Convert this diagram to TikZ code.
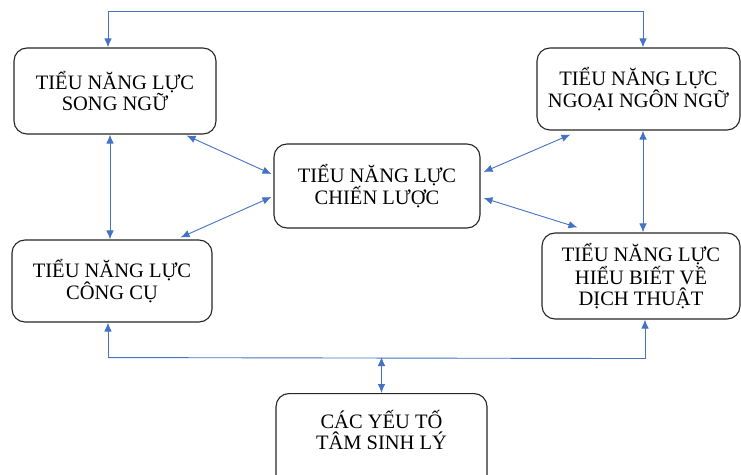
\documentclass[tikz,border=0pt]{standalone}
\usepackage{fontspec}
\setmainfont{Liberation Serif}
\usetikzlibrary{arrows.meta}
\definecolor{linkblue}{HTML}{4472C4}
\tikzset{
  box/.style={draw=black!85, line width=1.1pt, rounded corners=13pt, fill=white,
    align=center, font=\fontsize{20.5}{21}\selectfont, inner sep=0pt},
  link/.style={draw=linkblue, line width=0.9pt, {Latex[length=9pt,width=7.5pt]}-{Latex[length=9pt,width=7.5pt]}},
  onelink/.style={draw=linkblue, line width=0.9pt, -{Latex[length=9pt,width=7.5pt]}},
}
\begin{document}
\begin{tikzpicture}[x=1pt,y=1pt]
\useasboundingbox (0,0) rectangle (741,474);
\node[box, minimum width=202, minimum height=86] (A) at (115,383) {TIỂU NĂNG LỰC\\SONG NGỮ};
\node[box, minimum width=203, minimum height=82] (B) at (638.5,385) {TIỂU NĂNG LỰC\\NGOẠI NGÔN NGỮ};
\node[box, minimum width=206, minimum height=84] (C) at (377,288) {TIỂU NĂNG LỰC\\CHIẾN LƯỢC};
\node[box, minimum width=200, minimum height=82] (D) at (112,193) {TIỂU NĂNG LỰC\\CÔNG CỤ};
\node[box, minimum width=198, minimum height=86] (E) at (641,198) {TIỂU NĂNG LỰC\\HIỂU BIẾT VỀ\\DỊCH THUẬT};
\node[box, minimum width=211, minimum height=100, anchor=north] (F) at (381.5,81) {};
\node[align=center, font=\fontsize{20.5}{21}\selectfont, inner sep=0pt] (Ft) at ([yshift=-37]F.north) {CÁC YẾU TỐ\\TÂM SINH LÝ};

% top connector
\draw[link] ([xshift=-7pt]A.north) -- ++(0,36) -| ([xshift=4.5pt]B.north);
% bottom connector
\draw[onelink] ([xshift=-4pt,yshift=-35pt]D.south) -- ([xshift=-4pt]D.south);
\draw[onelink] ([xshift=4pt,yshift=-39pt]E.south) -- ([xshift=4pt]E.south);
\draw[draw=linkblue, line width=0.9pt] ([xshift=-4pt,yshift=-35pt]D.south) -- ([xshift=4pt,yshift=-39pt]E.south);
\draw[link] (F.north) -- ++(0,36);
% verticals
\draw[link] ([xshift=-5pt]A.south) -- ([xshift=-2pt]D.north);
\draw[link] ([xshift=4.5pt]B.south) -- ([xshift=2pt]E.north);
% diagonals
\draw[link] ([xshift=-30pt,yshift=-1pt]A.south east) -- ([xshift=-2pt,yshift=12pt]C.west);
\draw[link] ([xshift=-2pt,yshift=-11pt]C.west) -- ([xshift=-32pt,yshift=2pt]D.north east);
\draw[link] ([xshift=3pt,yshift=14pt]C.east) -- ([xshift=34pt,yshift=-4pt]B.south west);
\draw[link] ([xshift=3pt,yshift=-12pt]C.east) -- ([xshift=36pt,yshift=5pt]E.north west);
\end{tikzpicture}
\end{document}
